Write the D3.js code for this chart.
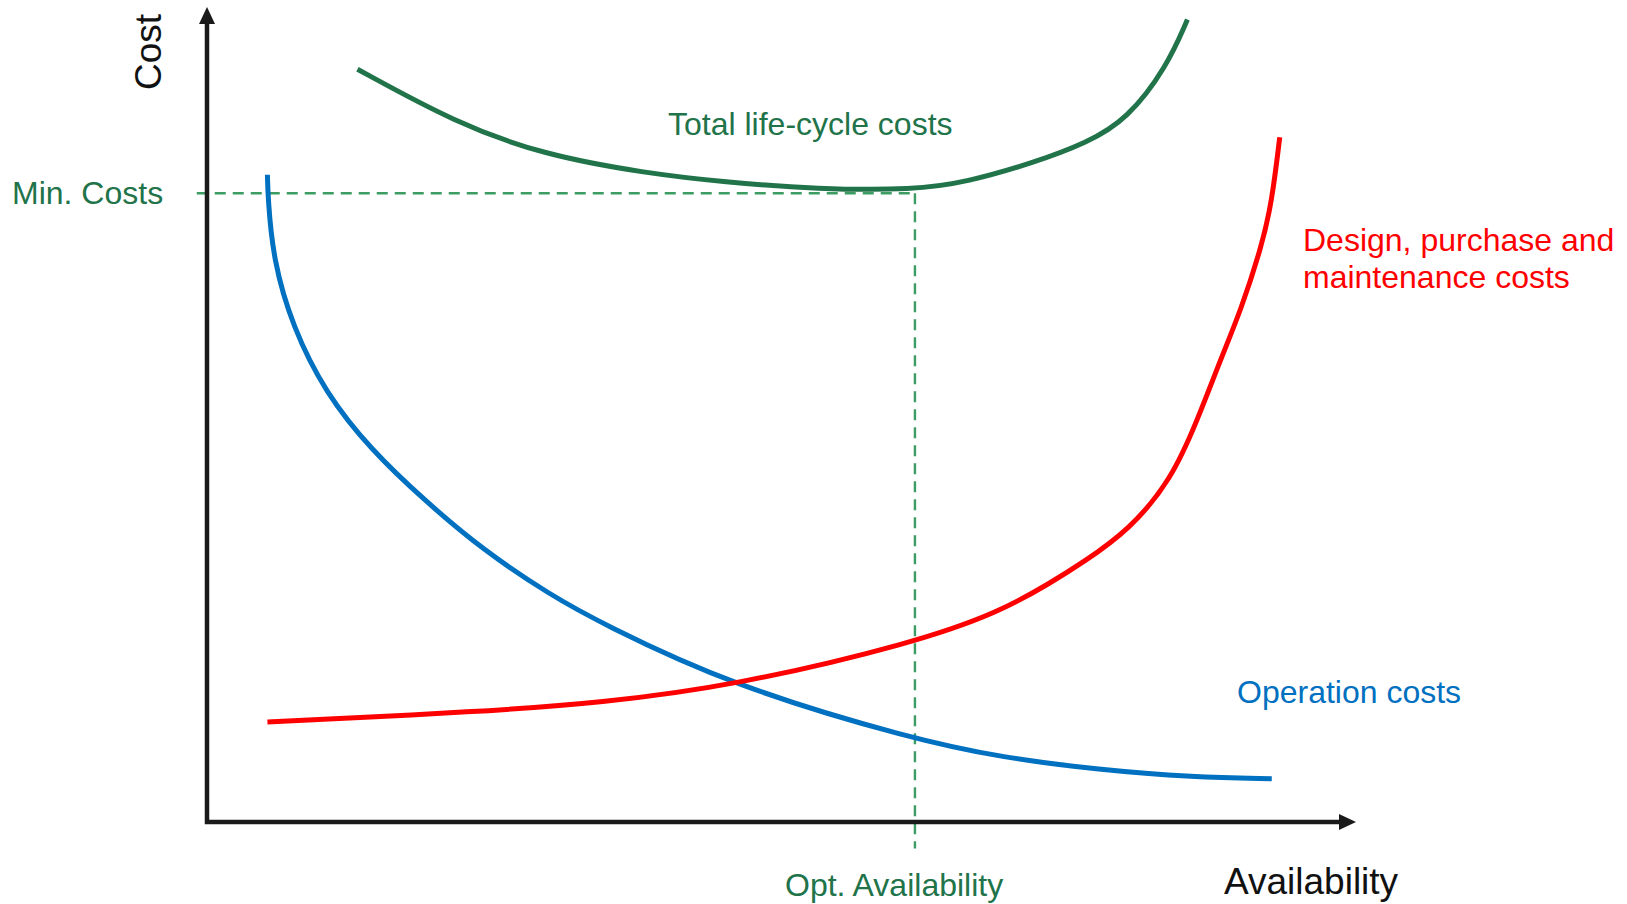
<!DOCTYPE html>
<html>
<head>
<meta charset="utf-8">
<script src="https://cdn.jsdelivr.net/npm/d3@7"></script>
<style>
  html, body { margin: 0; padding: 0; background: #fff; }
  svg { display: block; }
  text { font-family: "Liberation Sans", Arial, Helvetica, sans-serif; }
</style>
</head>
<body>
<svg id="chart" width="1627" height="904"></svg>
<script>
// Availability (x, 0-100) vs. cost (y, 0-100), schematic curves
const operationX = [5.3, 5.35, 5.8, 7.5, 10.4, 14.4, 19.0, 24.2, 30.1, 34.5, 46.1, 62.1, 69.6, 78.3, 86.5, 93.4, 93.4];
const operationY = [80.9, 78.0, 70.3, 61.9, 53.6, 46.5, 40.3, 34.0, 28.4, 24.9, 17.0, 10.3, 8.1, 6.5, 5.6, 5.4, 5.4];

const designX = [5.3, 5.3, 24.2, 34.5, 46.1, 62.1, 69.6, 74.0, 76.8, 80.9, 84.6, 86.9, 88.9, 90.7, 92.5, 93.4, 94.1, 94.1];
const designY = [12.5, 12.5, 13.8, 14.9, 17.0, 22.4, 26.3, 29.9, 32.4, 36.5, 42.8, 50.3, 57.8, 64.0, 71.9, 77.4, 85.6, 85.6];

const totalX = [13.2, 13.2, 21.8, 29.5, 38.5, 45.3, 53.6, 62.0, 66.7, 72.5, 77.2, 80.7, 84.2, 86.0, 86.0];
const totalY = [94.1, 94.1, 87.4, 83.4, 81.1, 80.0, 79.1, 79.0, 80.0, 82.4, 84.9, 87.8, 94.4, 100.3, 100.3];

// Optimum point marked by the dashed guide lines
const optAvailability = 62.1;
const minCost = 78.6;

const seriesLabels = {
  total: ["Total life-cycle costs"],
  design: ["Design, purchase and", "maintenance costs"],
  operation: ["Operation costs"]
};
const axisTitles = { x: "Availability", y: "Cost" };
const guideLabels = { x: "Opt. Availability", y: "Min. Costs" };

const colors = {
  axis: "#1a1a1a",
  total: "#21734a",
  guide: "#3c9c64",
  design: "#ff0000",
  operation: "#0070c0"
};

const svg = d3.select("#chart");

const x = d3.scaleLinear().domain([0, 100]).range([207, 1347]);
const y = d3.scaleLinear().domain([0, 100]).range([822, 22]);

const line = d3.line()
  .x(d => x(d[0]))
  .y(d => y(d[1]))
  .curve(d3.curveBasis);

const zip = (xs, ys) => xs.map((v, i) => [v, ys[i]]);

// Dashed guides: minimum cost level and optimum availability
svg.append("line")
  .attr("x1", x(-0.9)).attr("x2", x(optAvailability))
  .attr("y1", y(minCost)).attr("y2", y(minCost))
  .attr("stroke", colors.guide).attr("stroke-width", 2.4)
  .attr("stroke-dasharray", "11,7");
svg.append("line")
  .attr("x1", x(optAvailability)).attr("x2", x(optAvailability))
  .attr("y1", y(minCost)).attr("y2", y(-3.3))
  .attr("stroke", colors.guide).attr("stroke-width", 2.4)
  .attr("stroke-dasharray", "11,7");

// Axes with arrowheads
const x0 = x(0), y0 = y(0);
const xTip = 1356, yTip = 7;
svg.append("path")
  .attr("d", `M${x0},${yTip + 14} V${y0} H${xTip - 14}`)
  .attr("fill", "none")
  .attr("stroke", colors.axis)
  .attr("stroke-width", 4.5)
  .attr("stroke-linejoin", "miter");
svg.append("path")
  .attr("d", `M${x0},${yTip} L${x0 - 8},${yTip + 17} L${x0 + 8},${yTip + 17} Z`)
  .attr("fill", colors.axis);
svg.append("path")
  .attr("d", `M${xTip},${y0} L${xTip - 17},${y0 - 8} L${xTip - 17},${y0 + 8} Z`)
  .attr("fill", colors.axis);

// Cost curves
const curves = [
  { key: "operation", data: zip(operationX, operationY) },
  { key: "design", data: zip(designX, designY) },
  { key: "total", data: zip(totalX, totalY) }
];
svg.selectAll("path.curve")
  .data(curves)
  .join("path")
  .attr("class", "curve")
  .attr("d", d => line(d.data))
  .attr("fill", "none")
  .attr("stroke", d => colors[d.key])
  .attr("stroke-width", 5);

// Text
function label(lines, px, py, color, size, lineGap) {
  const t = svg.append("text")
    .attr("x", px).attr("y", py)
    .attr("fill", color)
    .attr("font-size", size);
  lines.forEach((s, i) => {
    t.append("tspan").attr("x", px).attr("y", py + i * lineGap).text(s);
  });
  return t;
}

label(seriesLabels.total, 668, 135, colors.total, 32, 0);
label(seriesLabels.design, 1303, 251, colors.design, 32, 37);
label(seriesLabels.operation, 1237, 703, colors.operation, 32, 0);
label([guideLabels.y], 12, 204, colors.total, 32, 0);
label([guideLabels.x], 785, 896, colors.total, 32, 0);
label([axisTitles.x], 1224, 894, "#111", 37, 0);

svg.append("text")
  .attr("transform", "translate(161,90) rotate(-90)")
  .attr("fill", "#111")
  .attr("font-size", 37)
  .text(axisTitles.y);
</script>
</body>
</html>
